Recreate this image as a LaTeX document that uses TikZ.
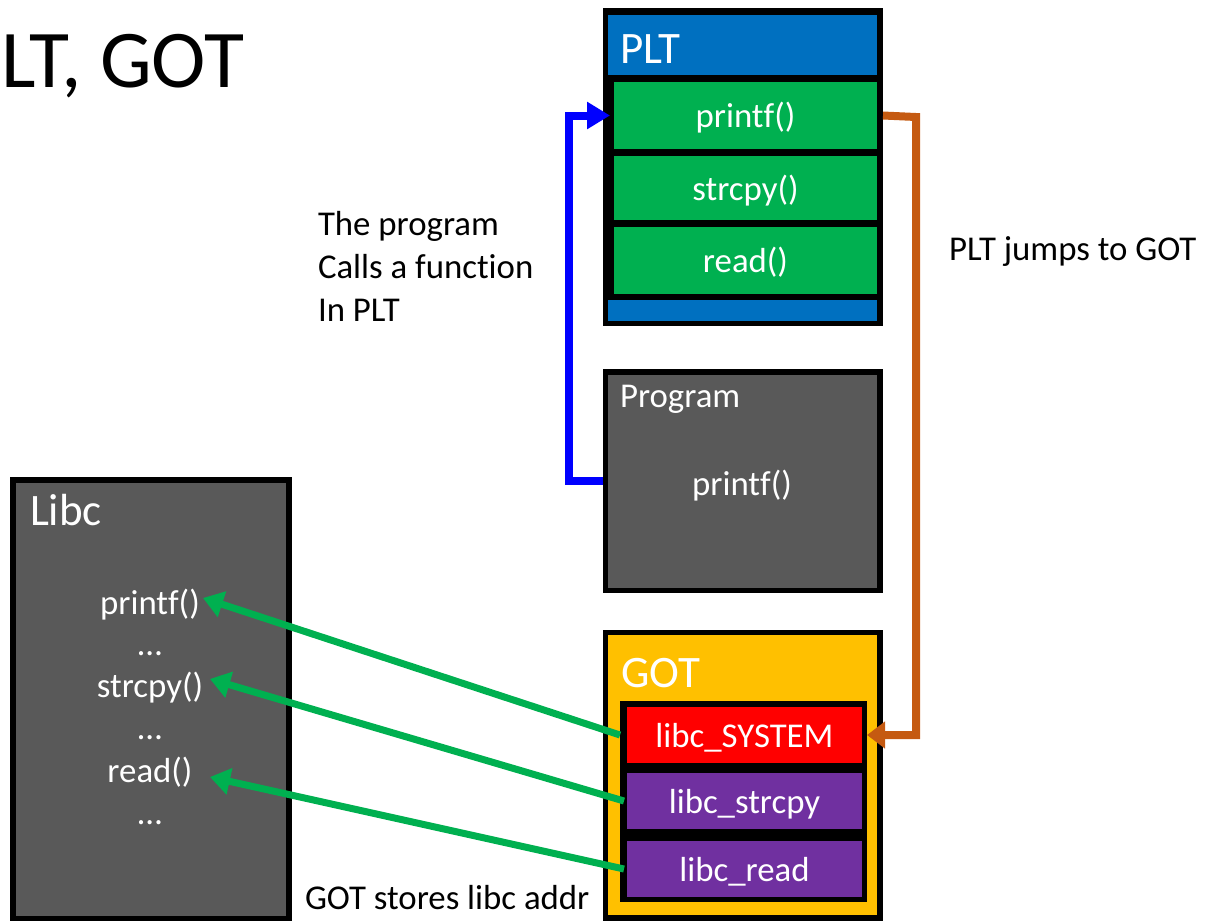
\documentclass[tikz,border=0pt]{standalone}
\usepackage{fontspec}
\setmainfont{Carlito}[Ligatures=NoCommon]
\usetikzlibrary{arrows.meta,calc}
\definecolor{pltblue}{HTML}{0070C0}
\definecolor{cellgreen}{HTML}{00B050}
\definecolor{boxgray}{HTML}{595959}
\definecolor{gotyellow}{HTML}{FFC000}
\definecolor{cellred}{HTML}{FF0000}
\definecolor{cellpurple}{HTML}{7030A0}
\definecolor{jumporange}{HTML}{C55A11}
\definecolor{callblue}{HTML}{0000FF}
\newcommand{\bodyfont}{\fontsize{34.8pt}{43pt}\selectfont}
\newcommand{\headfont}{\fontsize{45pt}{54pt}\selectfont}
\newcommand{\titlefont}{\fontsize{82pt}{96pt}\selectfont}
\tikzset{
  blk/.style={rectangle, inner sep=0pt, outer sep=0pt, draw=none},
  celltext/.style={blk, text=white, font=\bodyfont, text height=24pt, text depth=0pt},
  whitetext/.style={inner sep=0pt, outer sep=0pt, text=white},
  blacktext/.style={inner sep=0pt, outer sep=0pt, text=black, font=\bodyfont},
  thickarrow/.style={line width=8pt},
}
\begin{document}
\begin{tikzpicture}[x=1pt, y=-1pt]
\useasboundingbox (0,0) rectangle (1207,922);

% title
\node[inner sep=0pt, anchor=base west, font=\titlefont] (title) at (1,87) {LT, GOT};

% PLT
\node[blk, fill=black, minimum width=280pt, minimum height=318pt] (pltframe) at (743,167) {};
\node[blk, fill=pltblue, minimum width=269pt, minimum height=60pt] (plthead) at (742.5,45) {};
\node[blk, fill=pltblue, minimum width=269pt, minimum height=21pt] (pltfoot) at (742.5,310.5) {};
\node[whitetext, anchor=base west, font=\headfont] (plttitle) at (620,63) {PLT};
\node[celltext, fill=cellgreen, minimum width=263pt, minimum height=67pt] (pltprintf) at (745.5,115.5) {printf()};
\node[celltext, fill=cellgreen, minimum width=263pt, minimum height=64pt] (pltstrcpy) at (745.5,188) {strcpy()};
\node[celltext, fill=cellgreen, minimum width=263pt, minimum height=67pt] (pltread) at (745.5,260.5) {read()};

% Program
\node[blk, fill=black, minimum width=280pt, minimum height=224pt] (progframe) at (743,481) {};
\node[blk, fill=boxgray, minimum width=269pt, minimum height=213pt] (prog) at (742.5,481.5) {};
\node[whitetext, anchor=base west, font=\bodyfont] (progtitle) at (620,407) {Program};
\node[whitetext, anchor=base, font=\bodyfont] (progprintf) at (742,495) {printf()};

% GOT
\node[blk, fill=black, minimum width=280pt, minimum height=291pt] (gotframe) at (743,775.5) {};
\node[blk, fill=gotyellow, minimum width=269pt, minimum height=280pt] (got) at (742.5,775) {};
\node[whitetext, anchor=base west, font=\headfont] (gottitle) at (621,687) {GOT};
\node[blk, fill=black, minimum width=247pt, minimum height=201pt] (gotinner) at (743.5,801.5) {};
\node[celltext, fill=cellred, minimum width=235pt, minimum height=56pt] (gotsys) at (744.5,735) {libc\_SYSTEM};
\node[celltext, fill=cellpurple, minimum width=235pt, minimum height=56pt] (gotstrcpy) at (744.5,801) {libc\_strcpy};
\node[celltext, fill=cellpurple, minimum width=235pt, minimum height=56pt] (gotread) at (744.5,869) {libc\_read};

% Libc
\node[blk, fill=black, minimum width=282pt, minimum height=444pt] (libcframe) at (151,699) {};
\node[blk, fill=boxgray, minimum width=270pt, minimum height=433pt] (libc) at (151,699.5) {};
\node[whitetext, anchor=base west, font=\headfont] (libctitle) at (30,525) {Libc};
\node[whitetext, anchor=base, font=\bodyfont] (libcprintf) at (150,614) {printf()};
\node[whitetext, anchor=base, font=\bodyfont] (libcdots1) at (150,655) {…};
\node[whitetext, anchor=base, font=\bodyfont] (libcstrcpy) at (150,697) {strcpy()};
\node[whitetext, anchor=base, font=\bodyfont] (libcdots2) at (150,739) {…};
\node[whitetext, anchor=base, font=\bodyfont] (libcread) at (150,782) {read()};
\node[whitetext, anchor=base, font=\bodyfont] (libcdots3) at (150,824) {…};

% annotations
\node[blacktext, anchor=base west] (note1) at (318,235) {The program};
\node[blacktext, anchor=base west] (note2) at (318,278) {Calls a function};
\node[blacktext, anchor=base west] (note3) at (318,321) {In PLT};
\node[blacktext, anchor=base west] (note4) at (949,260) {PLT jumps to GOT};
\node[blacktext, anchor=base west] (note5) at (305,909) {GOT stores libc addr};

% connectors
\coordinate (bluecorner) at (569,481);
\draw[callblue, thickarrow, -{Triangle[length=23pt,width=26pt]}]
  (progframe.west) -- (bluecorner) |- ([xshift=-4pt]pltprintf.west);

\coordinate (orangecorner) at (916,117);
\draw[jumporange, thickarrow, -{Triangle[length=18pt,width=26pt]}]
  (pltframe.east |- pltprintf.center) -- (orangecorner) |- (gotinner.east |- gotsys.center);

\coordinate (tip1) at (203,598);
\coordinate (tip2) at (210,679);
\coordinate (tip3) at (210,777);
\draw[cellgreen, line width=7pt, -{Triangle[length=20pt,width=26pt]}]
  (gotinner.west |- gotsys.center) -- (tip1);
\draw[cellgreen, line width=7pt, -{Triangle[length=20pt,width=26pt]}]
  ([xshift=-3pt]gotstrcpy.west) -- (tip2);
\draw[cellgreen, line width=7pt, -{Triangle[length=20pt,width=26pt]}]
  ([xshift=-3pt]gotread.west) -- (tip3);
\end{tikzpicture}
\end{document}
